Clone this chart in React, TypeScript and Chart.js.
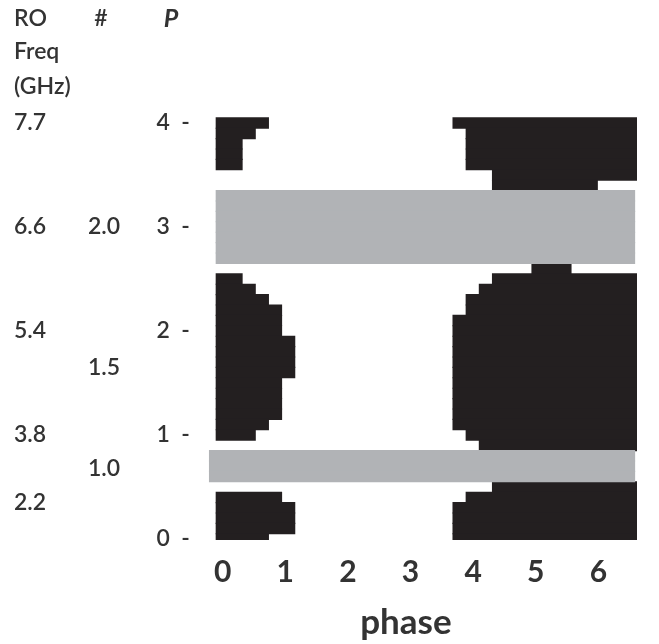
import React, { useEffect, useRef } from 'react';
import { Chart, registerables } from 'chart.js';

Chart.register(...registerables);

// ---- data ----
// P rows (each row is one 0.1-wide cell row) that hold black cells
const P_ROWS = [4.0, 3.9, 3.8, 3.7, 3.6, 3.5, 3.4,
  2.6, 2.5, 2.4, 2.3, 2.2, 2.1, 2.0, 1.9, 1.8, 1.7, 1.6, 1.5, 1.4, 1.3, 1.2, 1.1, 1.0, 0.9,
  0.5, 0.4, 0.3, 0.2, 0.1, 0.0];
// number of black phase cells counted from phase 0 (left block)
const LEFT_END = [4, 3, 2, 2, 2, 0, 0,
  0, 2, 3, 4, 5, 5, 5, 6, 6, 6, 6, 5, 5, 5, 5, 4, 3, 0,
  0, 5, 6, 6, 6, 4];
// first / last (exclusive) phase cell index of the right black block
const RIGHT_START = [18, 19, 19, 19, 19, 21, 21,
  24, 21, 20, 19, 19, 18, 18, 18, 18, 18, 18, 18, 18, 18, 18, 18, 19, 20,
  21, 19, 18, 18, 18, 18];
const RIGHT_END = [32, 32, 32, 32, 32, 32, 29,
  27, 32, 32, 32, 32, 32, 32, 32, 32, 32, 32, 32, 32, 32, 32, 32, 32, 32,
  32, 32, 32, 32, 32, 32];
const CELL_PHASE = 0.21; // phase width of one cell

// gray (excluded) rows
const GRAY_P = [3.3, 3.2, 3.1, 3.0, 2.9, 2.8, 2.7, 0.8, 0.7, 0.6];
const GRAY_FROM = [-0.105, -0.105, -0.105, -0.105, -0.105, -0.105, -0.105, -0.215, -0.215, -0.215];
const GRAY_TO = [6.58, 6.58, 6.58, 6.58, 6.58, 6.58, 6.58, 6.58, 6.58, 6.58];

const X_TICKS = [0, 1, 2, 3, 4, 5, 6];
const Y_TICKS = [0, 1, 2, 3, 4];

const RO_FREQ = ['7.7', '6.6', '5.4', '3.8', '2.2'];
const RO_FREQ_P = [4, 3, 2, 1, 0.35];
const NUM_LABELS = ['2.0', '1.5', '1.0'];
const NUM_P = [3, 1.65, 0.68];

const TEXT = '#333333';
const FONT = 'Lato';

const edge = (c: number) => (c - 0.5) * CELL_PHASE;

export default function App() {
  const ref = useRef<HTMLCanvasElement | null>(null);
  useEffect(() => {
    if (!ref.current) return;
    const black: any[] = [];
    P_ROWS.forEach((p, i) => {
      if (LEFT_END[i] > 0) black.push({ y: p, x: [edge(0), edge(LEFT_END[i])] });
      if (RIGHT_END[i] > RIGHT_START[i]) black.push({ y: p, x: [edge(RIGHT_START[i]), edge(RIGHT_END[i])] });
    });
    const gray = GRAY_P.map((p, i) => ({ y: p, x: [GRAY_FROM[i], GRAY_TO[i]] }));

    const annot = {
      id: 'annot',
      afterDraw(chart: any) {
        const ctx = chart.ctx;
        const ys = chart.scales.y;
        ctx.save();
        ctx.fillStyle = TEXT;
        ctx.textBaseline = 'middle';
        ctx.textAlign = 'left';
        ctx.font = `600 23px ${FONT}`;
        ctx.fillText('RO', 14, 19);
        ctx.fillText('Freq', 14, 52);
        ctx.fillText('(GHz)', 14, 87);
        ctx.textAlign = 'center';
        ctx.fillText('#', 101, 19);
        ctx.font = `italic bold 25px ${FONT}`;
        ctx.fillText('P', 171, 19);
        ctx.font = `600 23px ${FONT}`;
        ctx.textAlign = 'left';
        RO_FREQ.forEach((t, i) => ctx.fillText(t, 14, ys.getPixelForValue(RO_FREQ_P[i])));
        NUM_LABELS.forEach((t, i) => ctx.fillText(t, 88, ys.getPixelForValue(NUM_P[i])));
        ctx.restore();
      },
    };

    const chart = new Chart(ref.current, {
      type: 'bar',
      data: {
        datasets: [
          { data: gray as any, backgroundColor: '#b1b3b6', grouped: false, barThickness: 10.8 } as any,
          { data: black as any, backgroundColor: '#231f20', grouped: false, barThickness: 10.8 } as any,
        ],
      },
      options: {
        indexAxis: 'y',
        responsive: false,
        animation: false,
        layout: { padding: { left: 0, right: 22, top: 112.6, bottom: 0 } },
        elements: { bar: { borderWidth: 0, borderSkipped: false } },
        plugins: { legend: { display: false }, tooltip: { enabled: false } },
        scales: {
          x: {
            type: 'linear',
            min: -0.22,
            max: 6.615,
            offset: false,
            grid: { display: false, drawTicks: false },
            border: { display: false },
            afterBuildTicks: (s: any) => { s.ticks = X_TICKS.map((v) => ({ value: v })); },
            afterFit: (s: any) => { s.height = 103.96; },
            ticks: {
              padding: 14,
              color: TEXT,
              font: { family: FONT, size: 30, weight: 'bold' },
              maxRotation: 0,
              autoSkip: false,
            },
            title: {
              display: true,
              text: 'phase    ',
              color: TEXT,
              font: { family: FONT, size: 35, weight: 'bold' },
              padding: { top: 0, bottom: 0 },
            },
          },
          y: {
            type: 'linear',
            min: -0.01,
            max: 4.1,
            offset: false,
            grid: { display: false, drawTicks: false },
            border: { display: false },
            afterBuildTicks: (s: any) => { s.ticks = Y_TICKS.map((v) => ({ value: v })); },
            afterFit: (s: any) => { s.width = 208.8; },
            ticks: {
              padding: 19,
              color: TEXT,
              font: { family: FONT, size: 23, weight: '600' },
              autoSkip: false,
              callback: (v: any) => `${v}  -`,
            },
          },
        },
      } as any,
      plugins: [annot],
    });
    return () => chart.destroy();
  }, []);
  return (
    <div style={{ position: 'absolute', left: 0, top: 0, width: 659, height: 644, background: '#fff' }}>
      <canvas ref={ref} width={659} height={644} style={{ display: 'block', width: 659, height: 644 }} />
    </div>
  );
}
